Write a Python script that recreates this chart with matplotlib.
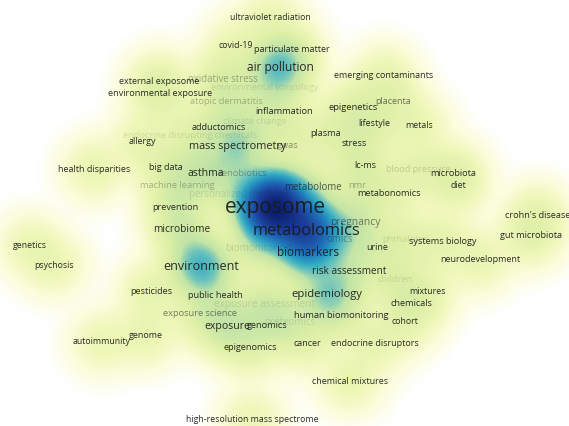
import numpy as np
import matplotlib
matplotlib.use("Agg")
import matplotlib.pyplot as plt
from matplotlib.colors import LinearSegmentedColormap

# keyword map (VOSviewer-style co-occurrence map), map coordinates
keywords = [
    "ultraviolet radiation", "covid-19", "particulate matter", "air pollution",
    "external exposome", "oxidative stress", "emerging contaminants",
    "environmental exposure", "environmental toxicology", "atopic dermatitis",
    "inflammation", "epigenetics", "placenta", "climate change", "lifestyle",
    "metals", "adductomics", "endocrine disrupting chemicals", "allergy",
    "plasma", "mass spectrometry", "gwas", "stress", "health disparities",
    "big data", "asthma", "xenobiotics", "lc-ms", "blood pressure",
    "microbiota", "diet", "machine learning", "personalized medicine",
    "metabolome", "nmr", "metabonomics", "prevention", "exposome",
    "crohn's disease", "pregnancy", "metabolomics", "omics", "gut microbiota",
    "microbiome", "genetics", "biomonitoring", "phthalates", "systems biology",
    "urine", "biomarkers", "neurodevelopment", "psychosis", "environment",
    "risk assessment", "children", "pesticides", "mixtures", "public health",
    "epidemiology", "exposure assessment", "chemicals", "exposure science",
    "human biomonitoring", "proteomics", "exposure", "genomics", "cohort",
    "autoimmunity", "genome", "cancer", "endocrine disruptors", "epigenomics",
    "chemical mixtures", "high-resolution mass spectrome",
]
map_x = [
    -0.15, -0.49, 0.07, -0.05,
    -1.26, -0.62, 0.99,
    -1.25, -0.20, -0.59,
    -0.01, 0.68, 1.08, -0.30, 0.89,
    1.34, -0.66, -0.95, -1.43,
    0.41, -0.47, 0.03, 0.69, -1.91,
    -1.19, -0.79, -0.42, 0.80, 1.33,
    1.68, 1.73, -1.08, -0.45,
    0.28, 0.72, 1.04, -1.10, -0.10,
    2.53, 0.70, 0.22, 0.55, 2.46,
    -1.03, -2.55, -0.27, 1.20, 1.58,
    0.92, 0.23, 1.95, -2.31, -0.84,
    0.64, 1.10, -1.34, 1.42, -0.70,
    0.42, -0.20, 1.26, -0.85,
    0.56, 0.05, -0.58, -0.18, 1.20,
    -1.83, -1.39, 0.22, 0.90, -0.35,
    0.65, -0.33,
]
map_y = [
    1.96, 1.68, 1.64, 1.46,
    1.32, 1.34, 1.37,
    1.19, 1.25, 1.11,
    1.02, 1.06, 1.12, 0.92, 0.89,
    0.87, 0.85, 0.77, 0.71,
    0.79, 0.67, 0.68, 0.69, 0.44,
    0.45, 0.40, 0.40, 0.47, 0.43,
    0.40, 0.28, 0.28, 0.18,
    0.25, 0.27, 0.20, 0.06, 0.05,
    -0.03, -0.10, -0.18, -0.26, -0.23,
    -0.17, -0.33, -0.35, -0.27, -0.29,
    -0.35, -0.39, -0.47, -0.52, -0.53,
    -0.59, -0.66, -0.78, -0.79, -0.82,
    -0.82, -0.92, -0.91, -1.01,
    -1.02, -1.09, -1.13, -1.13, -1.09,
    -1.29, -1.23, -1.30, -1.31, -1.34,
    -1.68, -2.07,
]
occurrences = [
    6, 6, 7, 42,
    7, 12, 7,
    8, 8, 9,
    9, 10, 7, 8, 7,
    6, 8, 9, 7,
    8, 26, 9, 8, 7,
    7, 22, 10, 7, 8,
    8, 6, 10, 12,
    12, 8, 8, 8, 320,
    8, 18, 150, 12, 8,
    17, 6, 16, 9, 8,
    7, 38, 7, 6, 52,
    16, 10, 8, 6, 8,
    32, 16, 8, 9,
    10, 12, 22, 8, 6,
    6, 7, 7, 7, 8,
    7, 6,
]

# labels drawn with reduced opacity (overlapped in the original map)
faint = {
    "environmental toxicology": 0.12, "climate change": 0.12,
    "endocrine disrupting chemicals": 0.12, "personalized medicine": 0.12,
    "biomonitoring": 0.14, "exposure assessment": 0.12, "proteomics": 0.12,
    "phthalates": 0.12, "children": 0.12, "blood pressure": 0.18,
    "oxidative stress": 0.35, "atopic dermatitis": 0.3, "machine learning": 0.3,
    "xenobiotics": 0.35, "nmr": 0.35, "omics": 0.35, "gwas": 0.45,
    "exposure science": 0.55, "placenta": 0.6, "pregnancy": 0.55,
    "metabolome": 0.7,
}

xs = np.array(map_x)
ys = np.array(map_y)
w = np.array(occurrences, dtype=float)

# density surface
gx = np.linspace(-2.85, 2.84, 569)
gy = np.linspace(2.13, -2.13, 426)
GX, GY = np.meshgrid(gx, gy)
sigma = 0.18
dens = np.zeros_like(GX)
for x0, y0, wi in zip(xs, ys, w):
    dens += wi * np.exp(-((GX - x0) ** 2 + (GY - y0) ** 2) / (2 * sigma ** 2))
dens = (dens / dens.max()) ** 0.21

cmap = LinearSegmentedColormap.from_list("vos", [
    (0.0, "#ffffff"), (0.15, "#ffffff"), (0.3, "#fbfddc"), (0.42, "#eef7b8"),
    (0.52, "#ddefa6"), (0.6, "#c2e4a6"), (0.65, "#6cc4bc"), (0.71, "#2ea6c4"),
    (0.8, "#1f70b8"), (0.9, "#1c3f9c"), (1.0, "#0b1f6e")])

fig = plt.figure(figsize=(5.69, 4.26), dpi=100)
ax = fig.add_axes([0, 0, 1, 1])
ax.imshow(dens, cmap=cmap, vmin=0, vmax=1, extent=[-2.85, 2.84, -2.13, 2.13],
          origin="upper", interpolation="bilinear")

for name, x0, y0, wi in zip(keywords, xs, ys, w):
    fs = 6.2 + 0.56 * (np.sqrt(wi) - 2.2)
    ax.text(x0, y0, name, ha="center", va="center", fontsize=fs,
            family="Open Sans", color="#1a1a1a", alpha=faint.get(name, 0.92))

ax.set_xlim(-2.85, 2.84)
ax.set_ylim(-2.13, 2.13)
ax.axis("off")
fig.savefig("out.png", dpi=100)
